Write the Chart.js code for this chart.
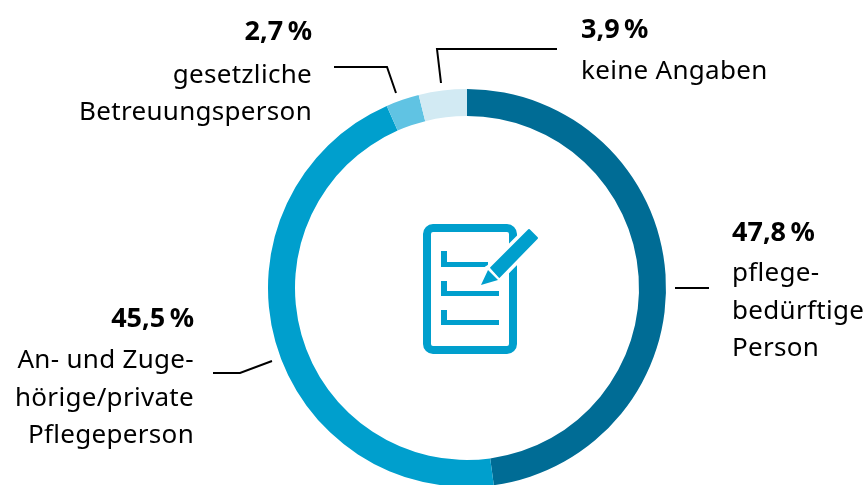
<!DOCTYPE html>
<html lang="de"><head><meta charset="utf-8">
<style>html,body{margin:0;padding:0;background:#fff;overflow:hidden;width:868px;height:485px}
#w{position:relative;width:868px;height:490px}</style>
<script src="https://cdn.jsdelivr.net/npm/chart.js@4"></script></head>
<body><div id="w"><canvas id="c" width="868" height="490"></canvas></div>
<script>
const categories = ["pflegebedürftige Person","An- und Zugehörige/private Pflegeperson","gesetzliche Betreuungsperson","keine Angaben"];
const shares = [47.8,45.5,2.7,3.9];
const shareLabels = ["47,8\u202f%","45,5\u202f%","2,7\u202f%","3,9\u202f%"];
const nameLines = [["pflege-","bedürftige","Person"],["An- und Zuge-","hörige/private","Pflegeperson"],["gesetzliche","Betreuungsperson"],["keine Angaben"]];
const colors = ["#006c95","#009fcd","#60c3e3","#d2eaf3"];

const FONT='"Noto Sans"';
const labelLayout=[
 {x:732,align:'left',top:241,first:281,step:37.5},
 {x:194,align:'right',top:327,first:368,step:37.5},
 {x:312,align:'right',top:40,first:83,step:37},
 {x:581,align:'left',top:38,first:79,step:37}];
const leaders=[
 [[675,288],[709,288]],
 [[272,361],[240,373],[213,373]],
 [[396,93],[387,67],[334,67]],
 [[441,83],[437,49],[557,49]]];

function poly(ctx,p){ctx.beginPath();p.forEach((q,i)=>i?ctx.lineTo(q[0],q[1]):ctx.moveTo(q[0],q[1]));ctx.closePath();}
const decor={id:'decor',afterDraw(chart){
 const ctx=chart.ctx;ctx.save();
 ctx.strokeStyle='#000';ctx.lineWidth=2;ctx.lineJoin='miter';
 leaders.forEach(l=>{ctx.beginPath();l.forEach((q,i)=>i?ctx.lineTo(q[0],q[1]):ctx.moveTo(q[0],q[1]));ctx.stroke();});
 ctx.fillStyle='#000';ctx.textBaseline='alphabetic';
 labelLayout.forEach((L,i)=>{
  ctx.textAlign=L.align;
  ctx.letterSpacing='0.2px';
  ctx.font='bold 27px '+FONT;
  ctx.fillText(shareLabels[i],L.x,L.top);
  ctx.letterSpacing='0.3px';
  ctx.font='26px '+FONT;
  nameLines[i].forEach((t,j)=>ctx.fillText(t,L.x,L.first+j*L.step));
 });
 // icon
 const ic='#009fcd';
 ctx.strokeStyle=ic;ctx.fillStyle=ic;ctx.lineWidth=8;
 ctx.beginPath();ctx.roundRect(427,228,86,122,6);ctx.stroke();
 [[251,488],[281,499],[310,499]].forEach(([y,xe])=>{
  const h=y===251?16:15;
  ctx.fillRect(441,y,6,h);
  ctx.fillRect(441,y+h-5,xe-441,5);
 });
 const body=[[529,230],[537,238],[499,277],[491,268]];
 const tip=[[488,270],[498,280],[481,285]];
 ctx.strokeStyle='#fff';ctx.lineWidth=9;ctx.lineJoin='round';
 poly(ctx,body);ctx.stroke();
 poly(ctx,tip);ctx.stroke();
 ctx.strokeStyle=ic;ctx.fillStyle=ic;ctx.lineWidth=2;
 poly(ctx,body);ctx.fill();ctx.stroke();
 ctx.strokeStyle='#fff';ctx.lineWidth=1.5;
 ctx.beginPath();ctx.moveTo(489,268);ctx.lineTo(499,279);ctx.stroke();
 ctx.strokeStyle=ic;ctx.lineWidth=1;
 poly(ctx,tip);ctx.fill();
 ctx.restore();
}};
new Chart(document.getElementById('c'),{
 type:'doughnut',
 data:{labels:categories,datasets:[{data:shares,backgroundColor:colors,borderWidth:0,hoverOffset:0}]},
 options:{responsive:false,animation:false,cutout:172,rotation:0,
  layout:{padding:{left:268,right:202,top:89,bottom:3}},
  plugins:{legend:{display:false},tooltip:{enabled:false}}},
 plugins:[decor]
});
</script></body></html>
